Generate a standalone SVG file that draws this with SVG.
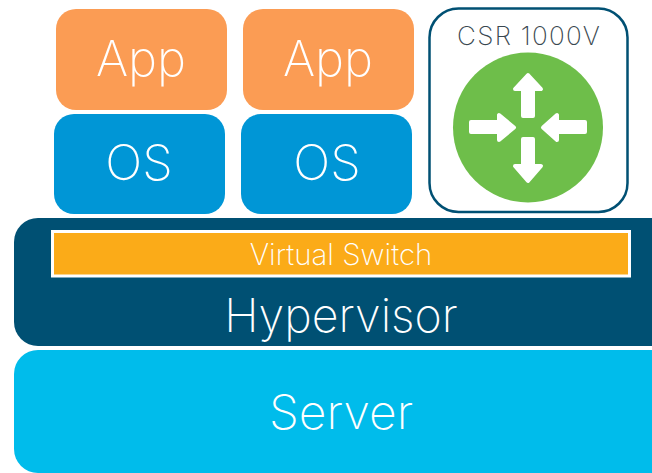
<svg xmlns="http://www.w3.org/2000/svg" width="652" height="473" viewBox="0 0 652 473">
<style>
text{font-family:Inter,"Liberation Sans",sans-serif;font-weight:200;fill:#fff;text-anchor:middle}
.app{fill:#fb9c54}.os{fill:#0096d6}
.t{font-size:49px}
.a{fill:#fff;stroke:#fff;stroke-width:4;stroke-linejoin:round}
</style>
<rect width="652" height="473" fill="#fff"/>
<g id="app1"><rect class="app" x="56" y="9" width="171" height="101" rx="20"/><text class="t" x="141" y="76">App</text></g>
<g id="app2"><rect class="app" x="243" y="9" width="171" height="101" rx="20"/><text class="t" x="328" y="76">App</text></g>
<g id="os1"><rect class="os" x="54" y="114" width="171" height="100" rx="20"/><text class="t" x="139" y="180">OS</text></g>
<g id="os2"><rect class="os" x="241" y="114" width="171" height="100" rx="20"/><text class="t" x="327" y="180">OS</text></g>
<g id="csr"><rect x="429.5" y="8.5" width="198" height="203.5" rx="29" fill="#fff" stroke="#005073" stroke-width="2.5"/>
<text x="529" y="45" font-size="26" letter-spacing="1.3" style="fill:#39474f">CSR 1000V</text>
<circle cx="528" cy="127.5" r="75" fill="#6ebe4a"/>
<g class="a"><path d="M528 75L541 89H533V116H523V89H515Z"/><path d="M528 181L541 166H533V139H523V166H515Z"/><path d="M514 127.500L499 115V122H471V132H499V140Z"/><path d="M543 127.500L557 115V122H585V132H557V140Z"/></g></g>
<g id="hypervisor"><path d="M652 218H38a24 24 0 0 0-24 24v80a24 24 0 0 0 24 24h614z" fill="#005073"/><text x="341" y="332" font-size="46.500">Hypervisor</text></g>
<g id="vswitch"><rect x="52.500" y="231.500" width="577" height="44.500" fill="#fbab18" stroke="#fff" stroke-width="3"/><text x="341" y="265" font-size="29.500">Virtual Switch</text></g>
<g id="server"><path d="M652 350H38a24 24 0 0 0-24 24v75a24 24 0 0 0 24 24h614z" fill="#00bceb"/><text x="341" y="429" font-size="48">Server</text></g>
</svg>
